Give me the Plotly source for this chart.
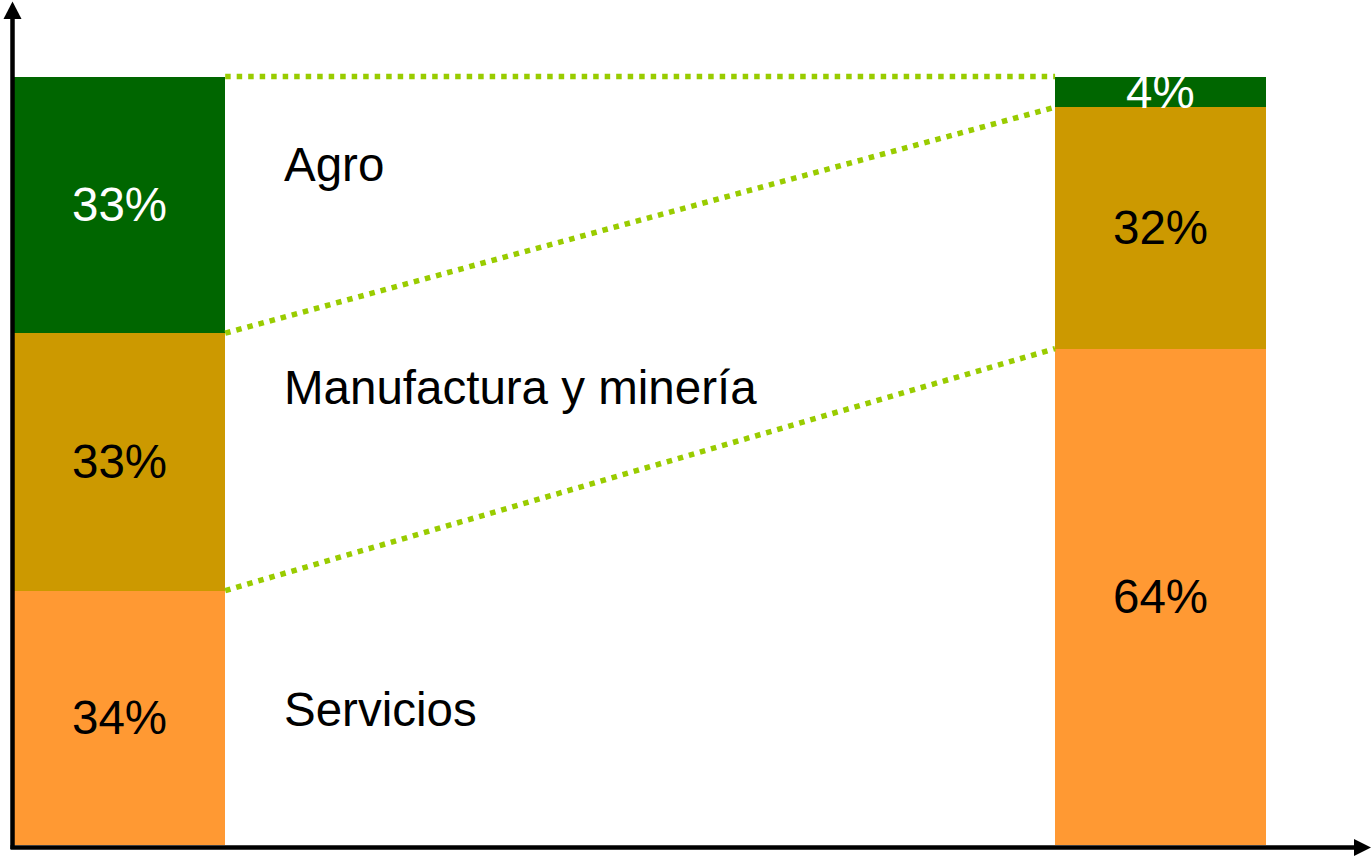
import plotly.graph_objects as go

# ---- data ----
periods = [0, 1]                      # two bars (left, right)
sectors = ["Servicios", "Manufactura y minería", "Agro"]   # bottom -> top
servicios = [33.1, 64.6]
manufactura = [33.5, 31.4]
agro = [33.4, 4.0]
servicios_labels = ["34%", "64%"]
manufactura_labels = ["33%", "32%"]
agro_labels = ["33%", "4%"]

series_values = [servicios, manufactura, agro]
series_labels = [servicios_labels, manufactura_labels, agro_labels]
colors = ["#FF9933", "#CC9900", "#006600"]
label_colors = ["black", "black", "white"]

W, H = 1372, 857
BAR_W = 0.203
FONT = "Liberation Sans, Arial, sans-serif"
FS = 47.5

fig = go.Figure()
for vals, name, col in zip(series_values, sectors, colors):
    fig.add_trace(go.Bar(x=periods, y=vals, name=name, width=BAR_W,
                         marker=dict(color=col, line=dict(width=0)),
                         hoverinfo="skip"))

# cumulative tops
cums = []
run = [0.0, 0.0]
for vals in series_values:
    run = [r + v for r, v in zip(run, vals)]
    cums.append(list(run))

# dotted connector lines between stack boundaries
for c in cums:
    fig.add_trace(go.Scatter(x=[periods[0] + BAR_W / 2, periods[1] - BAR_W / 2],
                             y=[c[0], c[1]], mode="lines",
                             line=dict(color="#99CC00", width=5.5, dash="5.5px,6px"),
                             hoverinfo="skip", showlegend=False))

annotations = []
# percentage labels centred in segments
base = [0.0, 0.0]
for vals, labs, lc in zip(series_values, series_labels, label_colors):
    for i in range(2):
        mid = base[i] + vals[i] / 2
        annotations.append(dict(x=periods[i], y=mid, text=labs[i], showarrow=False,
                                xref="x", yref="y", xanchor="center", yanchor="middle",
                                font=dict(family=FONT, size=FS, color=lc)))
    base = [b + v for b, v in zip(base, vals)]

# sector names
name_x = 0.1562
name_y = {"Agro": 88.5, "Manufactura y minería": 59.5, "Servicios": 17.6}
for s in sectors:
    annotations.append(dict(x=name_x, y=name_y[s], text=s, showarrow=False,
                            xref="x", yref="y", xanchor="left", yanchor="middle",
                            font=dict(family=FONT, size=FS, color="black")))

def px(x):
    return x / W

def py(y):
    return 1 - y / H

shapes = [
    # y axis
    dict(type="line", xref="paper", yref="paper", x0=px(12.5), x1=px(12.5),
         y0=py(849), y1=py(16), line=dict(color="black", width=4.5)),
    dict(type="path", xref="paper", yref="paper",
         path=f"M {px(3.5)} {py(19)} L {px(12.5)} {py(1.5)} L {px(21.5)} {py(19)} Z",
         fillcolor="black", line=dict(color="black", width=0)),
    # x axis
    dict(type="line", xref="paper", yref="paper", x0=px(10.5), x1=px(1356),
         y0=py(847.5), y1=py(847.5), line=dict(color="black", width=4.5)),
    dict(type="path", xref="paper", yref="paper",
         path=f"M {px(1354)} {py(839)} L {px(1371)} {py(847.5)} L {px(1354)} {py(856)} Z",
         fillcolor="black", line=dict(color="black", width=0)),
]

x0 = -119.5 / 1041.25
x1 = x0 + W / 1041.25
scale = (845 - 76.5) / 100.0
y0 = -(H - 845) / scale
y1 = 100 + 76.5 / scale

fig.update_layout(
    width=W, height=H, barmode="stack", showlegend=False,
    margin=dict(l=0, r=0, t=0, b=0, pad=0),
    paper_bgcolor="white", plot_bgcolor="white",
    xaxis=dict(visible=False, range=[x0, x1], fixedrange=True),
    yaxis=dict(visible=False, range=[y0, y1], fixedrange=True),
    annotations=annotations, shapes=shapes, hovermode=False,
    font=dict(family=FONT),
)

fig.write_html("out.html", config={"displayModeBar": False},
               post_script="document.body.style.margin='0';document.body.style.padding='0';"
                           "document.body.style.overflow='hidden';")
